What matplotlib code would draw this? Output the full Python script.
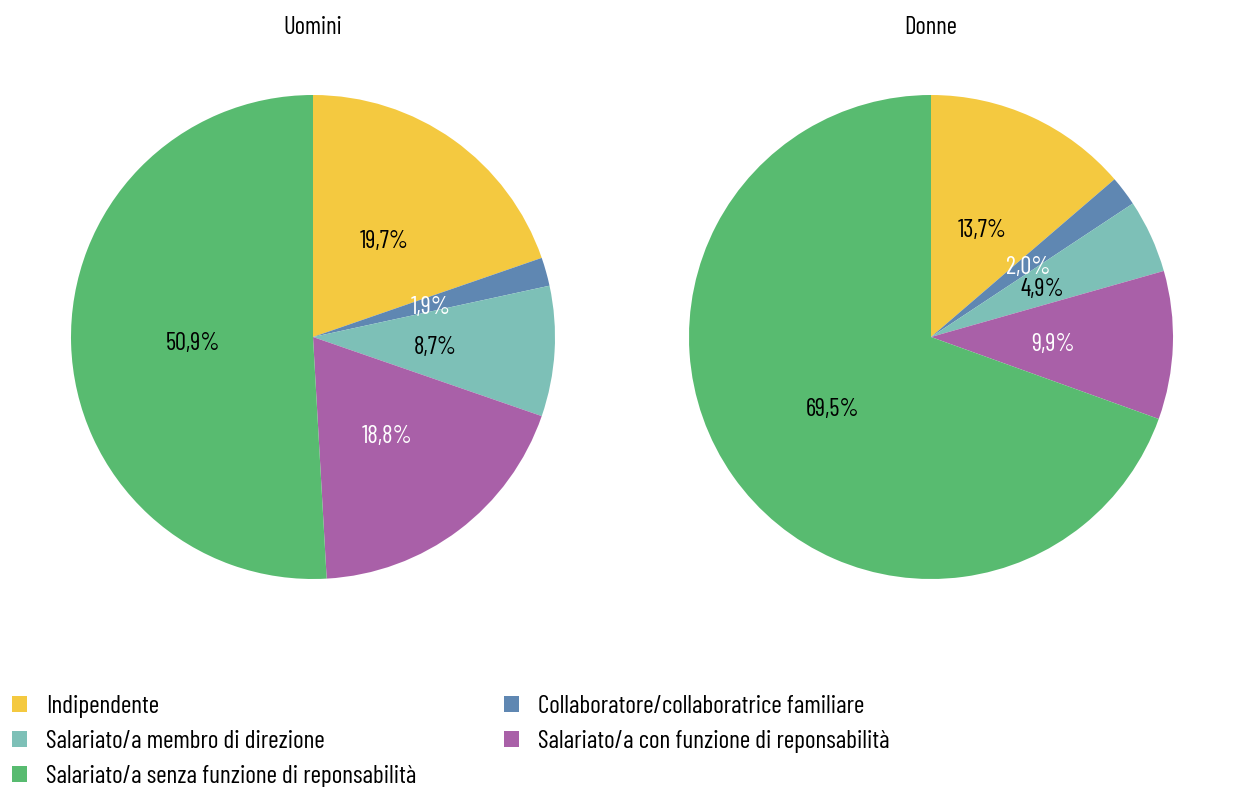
import matplotlib
matplotlib.use("Agg")
import matplotlib.pyplot as plt
from matplotlib.patches import Patch
from matplotlib.transforms import offset_copy

categories = ["Indipendente", "Collaboratore/collaboratrice familiare",
              "Salariato/a membro di direzione",
              "Salariato/a con funzione di reponsabilità",
              "Salariato/a senza funzione di reponsabilità"]
uomini = [19.7, 1.9, 8.7, 18.8, 50.9]
donne = [13.7, 2.0, 4.9, 9.9, 69.5]
titles = ["Uomini", "Donne"]
colors = ["#F4C940", "#5F87B2", "#7DC0B7", "#A960A8", "#58BB70"]
text_colors = ["black", "white", "black", "white", "black"]

plt.rcParams['font.family'] = ['Barlow Condensed', 'DejaVu Sans']

fig = plt.figure(figsize=(12.35, 7.87), dpi=100)
W, H = 1235, 787
r = 242
for cx, vals, title in [(313, uomini, titles[0]), (931, donne, titles[1])]:
    ax = fig.add_axes([(cx - r) / W, 1 - (337 + r) / H, 2 * r / W, 2 * r / H])
    wedges, texts, autotexts = ax.pie(vals, colors=colors, startangle=90, counterclock=False,
                                      autopct=lambda p: "", pctdistance=0.5,
                                      wedgeprops=dict(linewidth=0))
    for at, v, tc in zip(autotexts, vals, text_colors):
        at.set_text(f"{v:.1f}%".replace(".", ","))
        at.set_color(tc)
        at.set_fontsize(17.8)
        at.set_transform(offset_copy(ax.transData, fig=fig, x=1, y=-3, units='dots'))
    ax.set_aspect('equal')
    ax.set_xlim(-1, 1)
    ax.set_ylim(-1, 1)
    fig.text(cx / W, 1 - 27 / H, title, ha='center', va='center', fontsize=17.8)

handles = [Patch(facecolor=c, edgecolor='none') for c in colors]
order = [0, 2, 4, 1, 3]
leg = fig.legend([handles[i] for i in order], [categories[i] for i in order],
                 ncol=2, loc='upper left', bbox_to_anchor=(7 / W, 1 - 690 / H),
                 frameon=False, fontsize=18.3, handlelength=0.6, handleheight=0.6,
                 handletextpad=0.75, columnspacing=3.42, labelspacing=0.47,
                 borderaxespad=0, borderpad=0.2)
fig.savefig("out.png", dpi=100)
